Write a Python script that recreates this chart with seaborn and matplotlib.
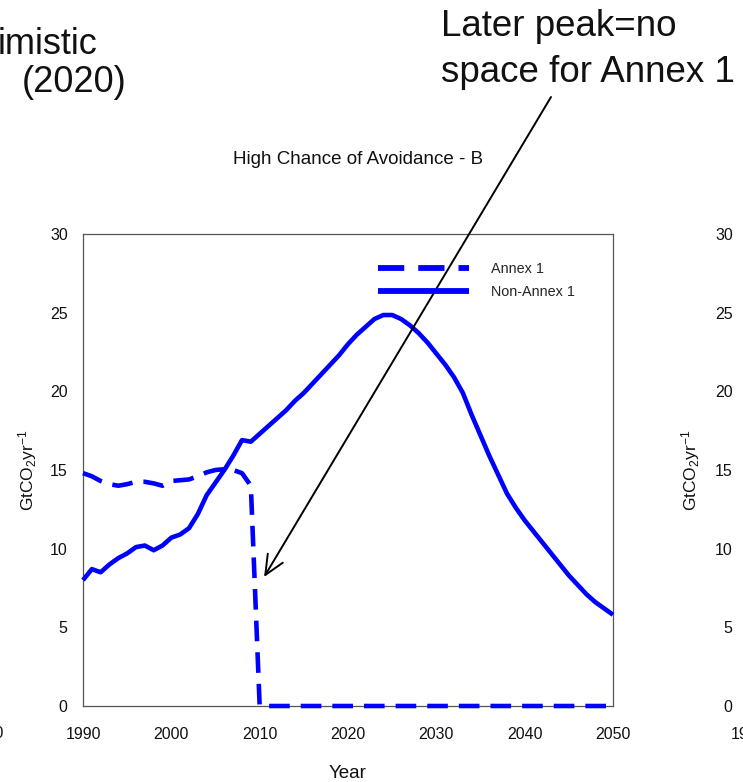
import numpy as np
import pandas as pd
import matplotlib
matplotlib.use("Agg")
import matplotlib.pyplot as plt
import seaborn as sns

years = list(range(1990, 2051))
non_annex1 = [8.0, 8.7, 8.5, 9.0, 9.4, 9.7, 10.1, 10.2, 9.9, 10.2,
              10.7, 10.9, 11.3, 12.2, 13.4, 14.2, 15.0, 15.9, 16.9, 16.8,
              17.3, 17.8, 18.3, 18.8, 19.4, 19.9, 20.5, 21.1, 21.7, 22.3,
              23.0, 23.6, 24.1, 24.6, 24.85, 24.85, 24.6, 24.2, 23.7, 23.1,
              22.4, 21.7, 20.9, 19.9, 18.5, 17.2, 15.9, 14.7, 13.5, 12.6,
              11.8, 11.1, 10.4, 9.7, 9.0, 8.3, 7.7, 7.1, 6.6, 6.2,
              5.8]
annex1 = [14.8, 14.6, 14.3, 14.1, 14.0, 14.1, 14.25, 14.25, 14.15, 14.0,
          14.3, 14.35, 14.4, 14.6, 14.85, 15.0, 15.05, 15.0, 14.8, 14.0,
          0.0] + [0.0] * 40
series_names = ["Annex 1", "Non-Annex 1"]
y_ticks = [0, 5, 10, 15, 20, 25, 30]
x_ticks = [1990, 2000, 2010, 2020, 2030, 2040, 2050]

df = pd.DataFrame({
    "Year": years * 2,
    "value": annex1 + non_annex1,
    "series": [series_names[0]] * len(years) + [series_names[1]] * len(years),
})

sns.set_theme(style="white")
plt.rcParams["font.family"] = ["Liberation Sans", "DejaVu Sans"]
plt.rcParams["mathtext.default"] = "regular"

W, H = 743, 782
fig = plt.figure(figsize=(W / 100, H / 100), dpi=100)

def box(x0, y0, x1, y1):
    return [x0 / W, 1 - y1 / H, (x1 - x0) / W, (y1 - y0) / H]

TXT = "#111111"
ax = fig.add_axes(box(83, 234, 613, 706))
blue = "#0000FF"
sns.lineplot(data=df, x="Year", y="value", hue="series", style="series",
             palette={series_names[0]: blue, series_names[1]: blue},
             dashes={series_names[0]: (4.5, 2.4), series_names[1]: ""},
             linewidth=3.3, ax=ax, legend=True)
for ln in ax.get_lines():
    ln.set_clip_on(False)
    ln.set_zorder(3)
    ln.set_solid_capstyle("butt")
    ln.set_dash_capstyle("butt")

ax.set_xlim(1990, 2050)
ax.set_ylim(0, 30)
ax.set_xticks(x_ticks)
ax.set_yticks(y_ticks)
for s in ax.spines.values():
    s.set_visible(True)
    s.set_color("#555555")
    s.set_linewidth(0.9)
ax.tick_params(axis="both", direction="out", length=4, width=0.9, color="#444444",
               labelsize=11.5, labelcolor=TXT)
ax.tick_params(axis="x", pad=11)
ax.tick_params(axis="y", pad=7)
ax.set_xlabel("Year", fontsize=13.5, labelpad=17, color=TXT)
ax.set_ylabel("GtCO$_2$yr$^{-1}$", fontsize=12.5, labelpad=8, color=TXT)

leg = ax.legend(loc="upper left", bbox_to_anchor=((378 - 83) / 530, 1 - (262 - 234) / 472),
                frameon=False, fontsize=10.4, handlelength=6.3, handletextpad=1.5,
                labelspacing=0.65, borderpad=0, borderaxespad=0)
for h in leg.get_lines():
    h.set_linewidth(4.2)

# right-hand neighbouring panel (mostly off the canvas)
ax2 = fig.add_axes(box(748, 234, 1278, 706))
ax2.set_xlim(1990, 2050)
ax2.set_ylim(0, 30)
ax2.set_xticks(x_ticks)
ax2.set_yticks(y_ticks)
for s in ax2.spines.values():
    s.set_color("#555555")
    s.set_linewidth(0.9)
ax2.tick_params(axis="both", direction="out", length=4, width=0.9, color="#444444",
                labelsize=11.5, labelcolor=TXT)
ax2.tick_params(axis="x", pad=11)
ax2.tick_params(axis="y", pad=7)
ax2.set_ylabel("GtCO$_2$yr$^{-1}$", fontsize=12.5, labelpad=9, color=TXT)

# text belonging to the neighbouring left panel (partly off the canvas)
fig.text(-14 / W, 1 - 733 / H, "2050", ha="center", va="center", fontsize=11.5, color=TXT)

# titles / annotations
fig.text(358 / W, 1 - 160 / H, "High Chance of Avoidance - B", ha="center", va="center",
         fontsize=13.5, color=TXT)
fig.text(-2 / W, 1 - 44 / H, "imistic", ha="left", va="center", fontsize=26, color=TXT)
fig.text(22 / W, 1 - 83 / H, "(2020)", ha="left", va="center", fontsize=26, color=TXT)
fig.text(441 / W, 1 - 27 / H, "Later peak=no", ha="left", va="center", fontsize=26.5, color=TXT)
fig.text(441 / W, 1 - 72 / H, "space for Annex 1", ha="left", va="center", fontsize=26.5, color=TXT)

ax.annotate("", xy=(2010.5, 8.2), xycoords="data",
            xytext=(551 / W, 1 - 97 / H), textcoords="figure fraction",
            arrowprops=dict(arrowstyle="->,head_length=1.0,head_width=0.45",
                            mutation_scale=14, lw=1.4, color="black",
                            shrinkA=0, shrinkB=0))

fig.savefig("out.png", dpi=100)
